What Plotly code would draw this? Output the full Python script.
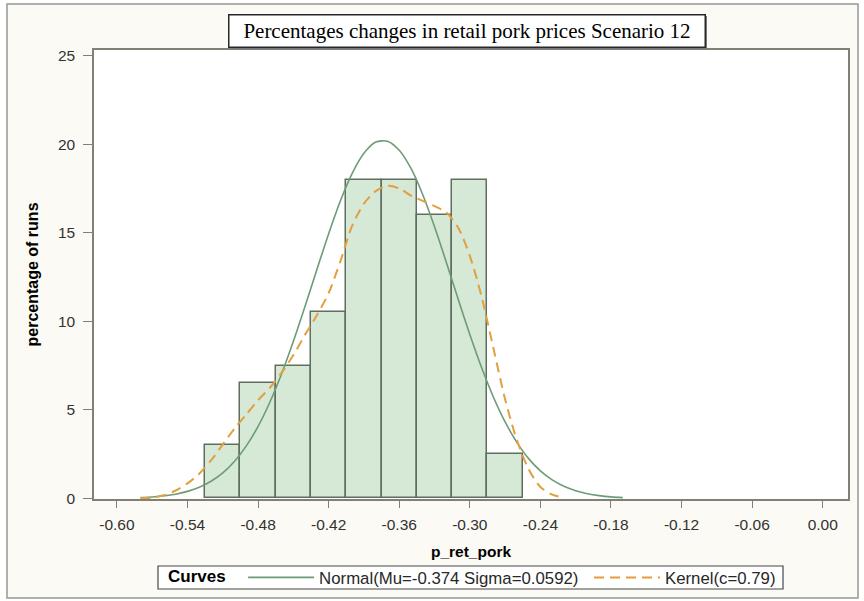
import plotly.graph_objects as go

# ---------------- data ----------------
bin_centers = [-0.51, -0.48, -0.45, -0.42, -0.39, -0.36, -0.33, -0.30, -0.27]
bin_pct = [3.0, 6.5, 7.5, 10.5, 18.0, 18.0, 16.0, 18.0, 2.5]

normal_x = [-0.58, -0.57, -0.56, -0.55, -0.54, -0.53, -0.52, -0.51, -0.50, -0.49,
            -0.48, -0.47, -0.46, -0.45, -0.44, -0.43, -0.42, -0.41, -0.40, -0.39,
            -0.38, -0.37, -0.36, -0.35, -0.34, -0.33, -0.32, -0.31, -0.30, -0.29,
            -0.28, -0.27, -0.26, -0.25, -0.24, -0.23, -0.22, -0.21, -0.20, -0.19,
            -0.18, -0.17]
normal_y = [0.05, 0.08, 0.15, 0.24, 0.40, 0.63, 0.97, 1.44, 2.10, 2.97,
            4.07, 5.43, 7.04, 8.87, 10.86, 12.93, 14.95, 16.81, 18.36, 19.49,
            20.12, 20.17, 19.66, 18.63, 17.15, 15.34, 13.34, 11.27, 9.26, 7.39,
            5.73, 4.32, 3.17, 2.25, 1.56, 1.05, 0.69, 0.44, 0.27, 0.16,
            0.09, 0.05]

kernel_x = [-0.58, -0.57, -0.56, -0.55, -0.54, -0.53, -0.52, -0.51, -0.50, -0.49,
            -0.48, -0.47, -0.46, -0.45, -0.44, -0.43, -0.42, -0.41, -0.40, -0.39,
            -0.38, -0.37, -0.36, -0.35, -0.34, -0.33, -0.32, -0.31, -0.30, -0.29,
            -0.28, -0.27, -0.26, -0.25, -0.24, -0.23, -0.22]
kernel_y = [0.02, 0.05, 0.18, 0.45, 0.85, 1.40, 2.15, 3.05, 3.95, 4.75,
            5.55, 6.25, 7.10, 8.10, 9.25, 10.35, 11.60, 13.40, 15.40, 16.65,
            17.35, 17.65, 17.50, 17.10, 16.80, 16.50, 16.15, 15.30, 13.70, 11.40,
            8.50, 5.60, 3.30, 1.65, 0.65, 0.22, 0.05]

x_ticks = [-0.60, -0.54, -0.48, -0.42, -0.36, -0.30, -0.24, -0.18, -0.12, -0.06, 0.00]
x_tick_labels = ["-0.60", "-0.54", "-0.48", "-0.42", "-0.36", "-0.30",
                 "-0.24", "-0.18", "-0.12", "-0.06", "0.00"]
y_ticks = [0, 5, 10, 15, 20, 25]

title_text = "Percentages changes in retail pork prices Scenario 12"
x_title = "p_ret_pork"
y_title = "percentage of runs"
legend_title = "Curves"
normal_name = "Normal(Mu=-0.374 Sigma=0.0592)"
kernel_name = "Kernel(c=0.79)"

# ---------------- layout geometry ----------------
W, H = 864, 601
L, R, T, B = 94, 848, 50, 499  # plot area in pixels
pw, ph = R - L, B - T


def px(x):
    return (x - L) / pw


def py(y):
    return (B - y) / ph


BAR_FILL = "rgb(214,232,214)"
BAR_LINE = "rgb(95,110,95)"
NORMAL_C = "rgb(110,155,118)"
KERNEL_C = "rgb(226,160,60)"
CREAM = "rgb(252,250,244)"
AXIS_C = "rgb(128,128,118)"
FONT = "Liberation Sans, Arial, sans-serif"
LEG_FONT = dict(family=FONT, size=16.8, color="rgb(40,40,40)")

fig = go.Figure()
fig.add_trace(go.Bar(
    x=bin_centers, y=bin_pct, width=0.03,
    marker=dict(color=BAR_FILL, line=dict(color=BAR_LINE, width=1.5)),
    showlegend=False, hoverinfo="skip"))
fig.add_trace(go.Scatter(
    x=normal_x, y=normal_y, mode="lines", name=normal_name, legend="legend",
    line=dict(color=NORMAL_C, width=1.6, shape="spline", smoothing=0.8)))
fig.add_trace(go.Scatter(
    x=kernel_x, y=kernel_y, mode="lines", name=kernel_name, legend="legend2",
    line=dict(color=KERNEL_C, width=2, dash="10px,6px", shape="spline", smoothing=0.8)))

shapes = []
# white outside the outer frame
for (x0, y0, x1, y1) in [(0, 0, W, 4), (0, 598, W, H), (0, 0, 7, H), (858, 0, W, H)]:
    shapes.append(dict(type="rect", xref="paper", yref="paper",
                       x0=px(x0), x1=px(x1), y0=py(y0), y1=py(y1),
                       fillcolor="white", line=dict(width=0), layer="above"))
# outer frame
shapes.append(dict(type="rect", xref="paper", yref="paper",
                   x0=px(7), x1=px(858), y0=py(4), y1=py(598),
                   line=dict(color="rgb(150,150,145)", width=1.5), layer="above"))
# title shadow
shapes.append(dict(type="rect", xref="paper", yref="paper",
                   x0=px(230), x1=px(707), y0=py(16), y1=py(49),
                   fillcolor="rgb(120,120,120)", line=dict(width=0), layer="above"))
# legend box
shapes.append(dict(type="rect", xref="paper", yref="paper",
                   x0=px(158), x1=px(783), y0=py(566), y1=py(589),
                   fillcolor="white", line=dict(color="rgb(70,70,70)", width=1.2),
                   layer="above"))

fig.update_layout(
    width=W, height=H,
    margin=dict(l=L, r=W - R, t=T, b=H - B, pad=0, autoexpand=False),
    paper_bgcolor=CREAM, plot_bgcolor="white",
    bargap=0,
    font=dict(family=FONT, color="rgb(40,40,40)", size=13),
    shapes=shapes,
    showlegend=True,
    legend=dict(
        orientation="h", xref="container", yref="container",
        x=166 / W, xanchor="left", y=1 - 577.5 / H, yanchor="middle",
        bgcolor="rgba(0,0,0,0)", borderwidth=0, font=LEG_FONT,
        title=dict(text="<b>" + legend_title + "</b>  ",
                   font=dict(family=FONT, size=17, color="black")),
        itemwidth=66, tracegroupgap=0,
    ),
    legend2=dict(
        orientation="h", xref="container", yref="container",
        x=589 / W, xanchor="left", y=1 - 577.5 / H, yanchor="middle",
        bgcolor="rgba(0,0,0,0)", borderwidth=0, font=LEG_FONT,
        itemwidth=66, tracegroupgap=0,
    ),
    annotations=[dict(
        text=title_text, xref="paper", yref="paper",
        x=px(228), xanchor="left", y=py(14), yanchor="top",
        showarrow=False, width=473, height=29, align="center",
        font=dict(family="Liberation Serif, Times New Roman, serif", size=21, color="black"),
        bgcolor="white", bordercolor="rgb(40,40,40)", borderwidth=1.5, borderpad=1)],
    xaxis=dict(
        range=[-0.6195, 0.0215], tickvals=x_ticks, ticktext=x_tick_labels,
        ticks="outside", ticklen=7, tickcolor=AXIS_C, tickwidth=1.2,
        ticklabelstandoff=4,
        showline=True, linecolor=AXIS_C, linewidth=1.5, mirror=True,
        showgrid=False, zeroline=False, automargin=False,
        tickfont=dict(family=FONT, size=15.5, color="rgb(50,50,50)"),
        title=dict(text="<b>" + x_title + "</b>", standoff=14,
                   font=dict(family=FONT, size=15.5, color="black")),
    ),
    yaxis=dict(
        range=[-0.03, 25.32], tickvals=y_ticks,
        ticks="outside", ticklen=9, tickcolor=AXIS_C, tickwidth=1.2,
        ticklabelstandoff=5,
        showline=True, linecolor=AXIS_C, linewidth=1.5, mirror=True,
        showgrid=False, zeroline=False, automargin=False,
        tickfont=dict(family=FONT, size=15.5, color="rgb(50,50,50)"),
        title=dict(text="<b>" + y_title + "</b>", standoff=15,
                   font=dict(family=FONT, size=16, color="black")),
    ),
)

fig.write_html("out.html", config={"displayModeBar": False},
               post_script="document.body.style.margin='0';")
